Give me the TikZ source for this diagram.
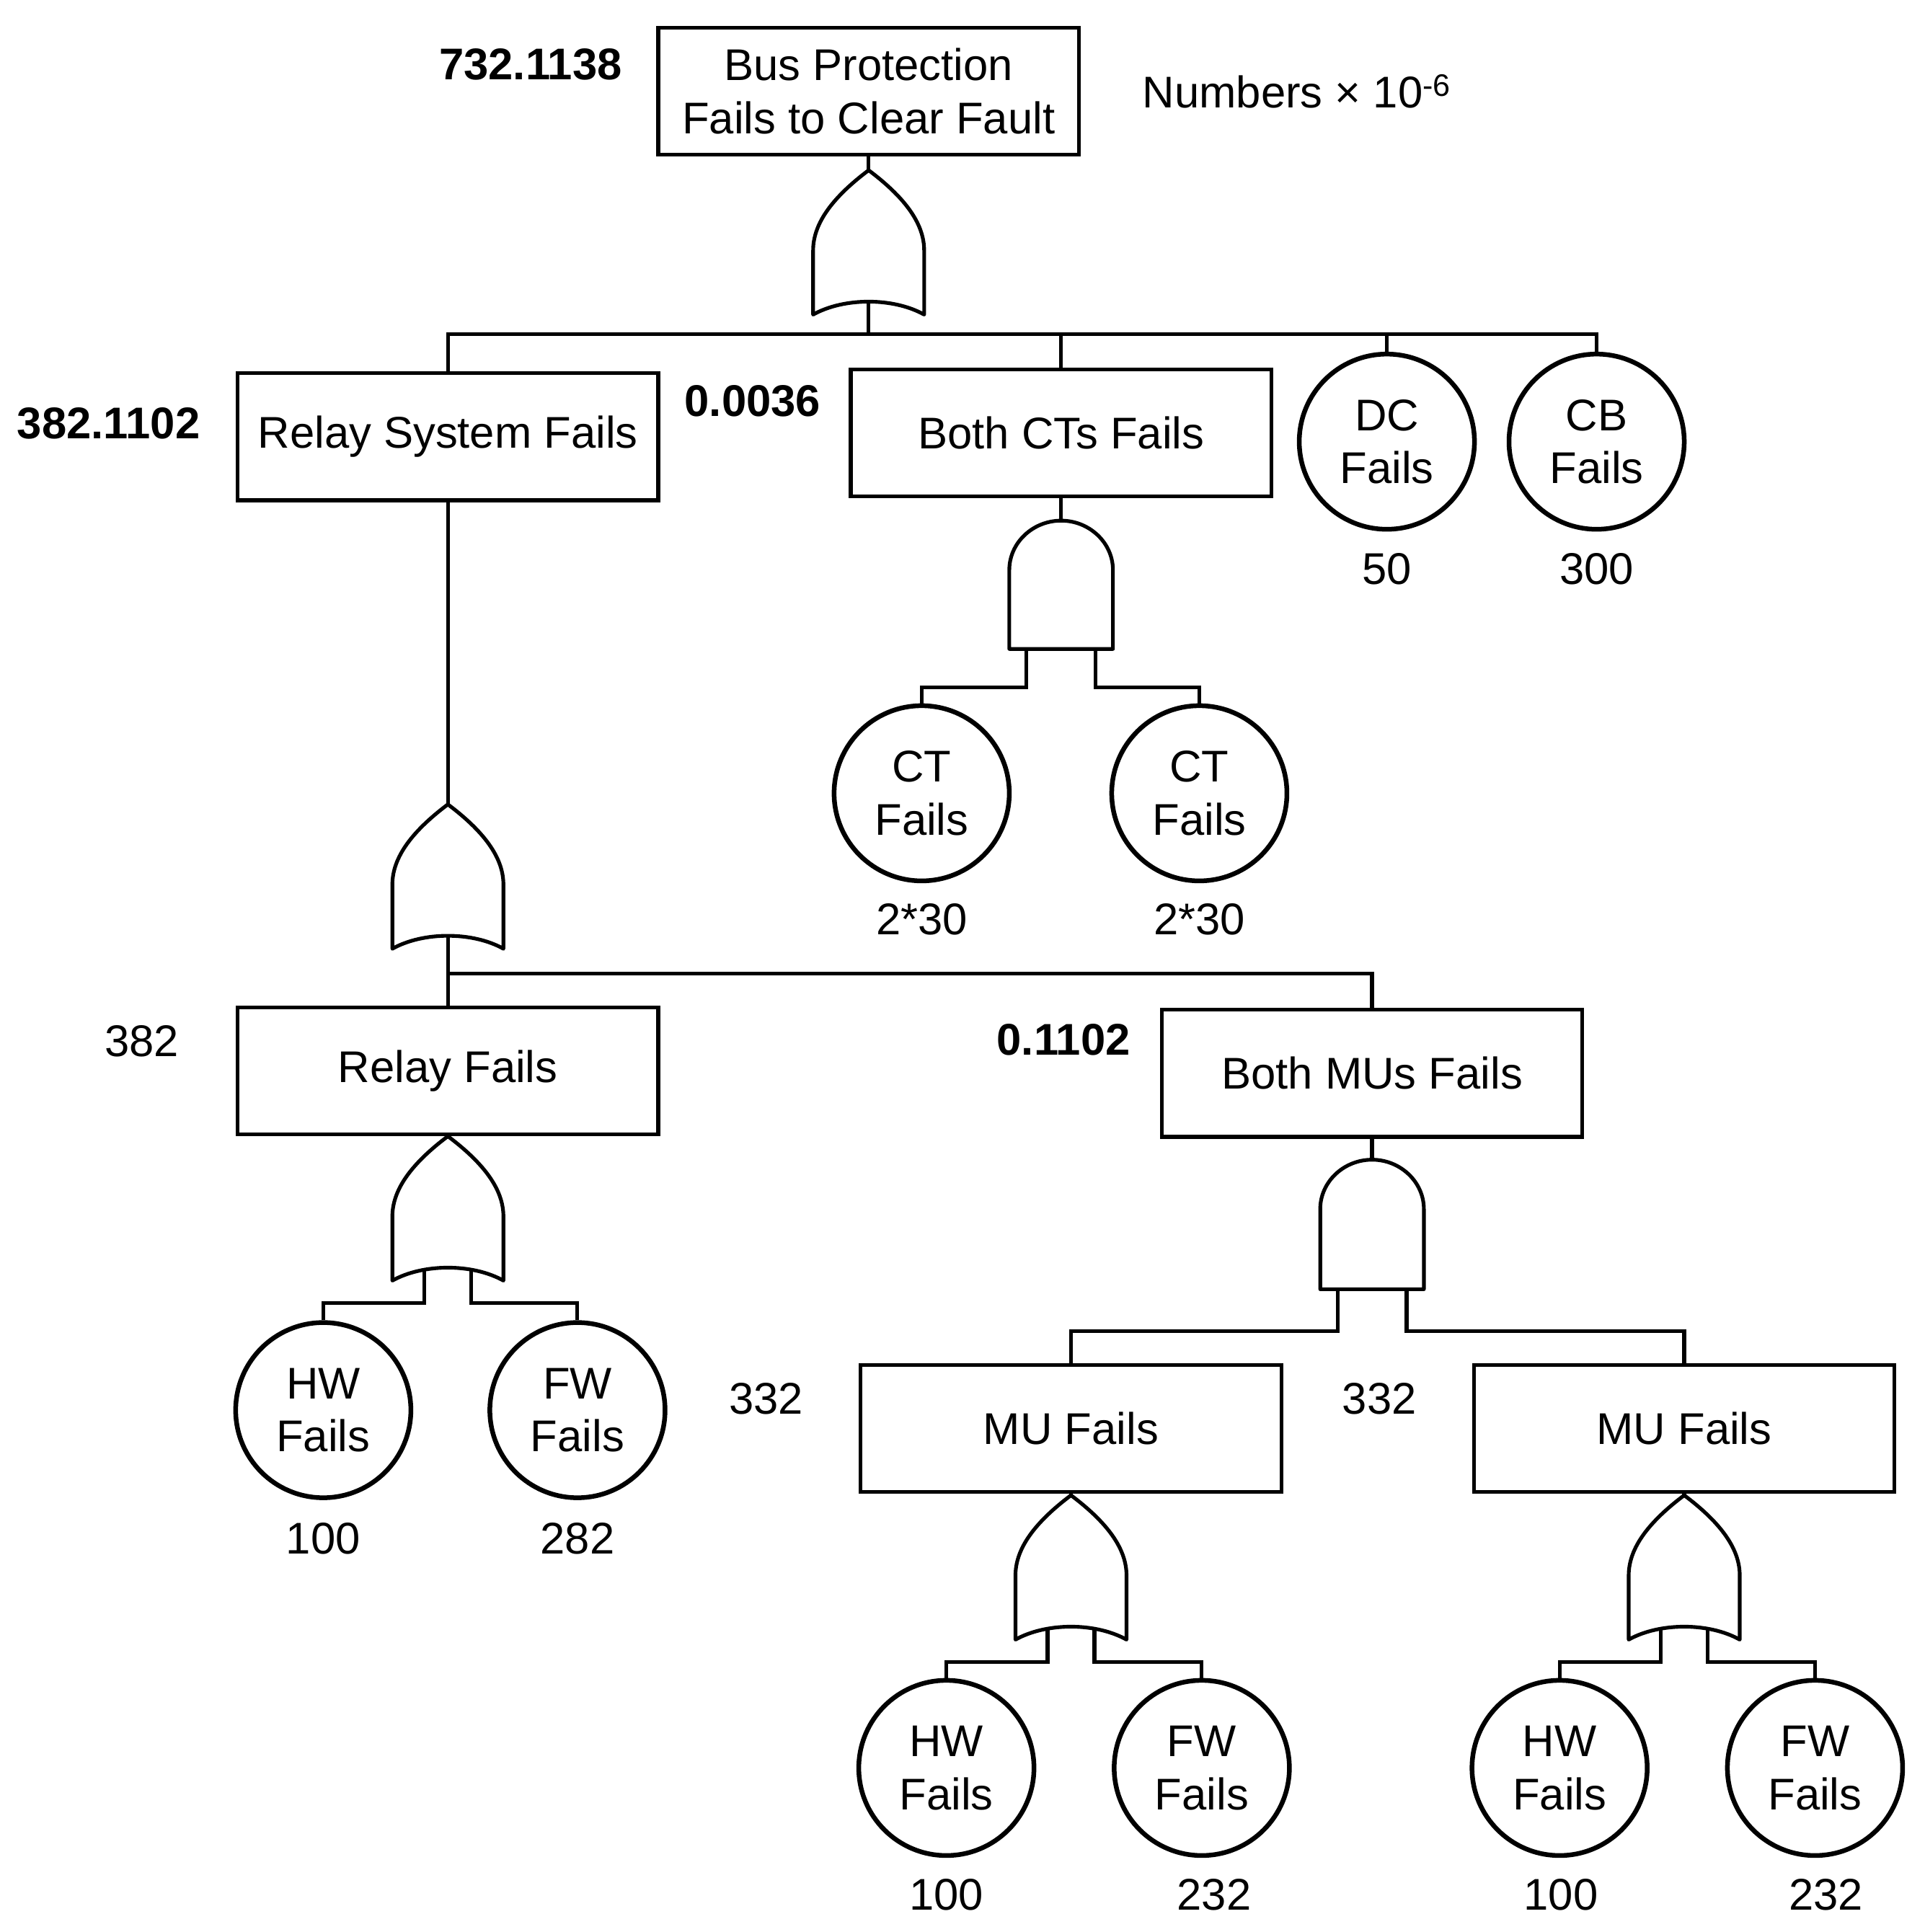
\documentclass[tikz,border=0pt]{standalone}
\usepackage{fontspec}
\setmainfont{Liberation Sans}
\newcommand{\ORgate}[3]{%
  \draw[gate] (#2,#3) .. controls (#2-32,#3+24) and (#2-45,#3+45) .. (#2-45,#3+65)
    -- (#2-45,#3+117) .. controls (#2-20,#3+103) and (#2+20,#3+103) .. (#2+45,#3+117)
    -- (#2+45,#3+65) .. controls (#2+45,#3+45) and (#2+32,#3+24) .. cycle;
  \coordinate (#1t) at (#2,#3);
  \coordinate (#1b) at (#2,#3+106);
  \coordinate (#1l) at (#2-19,#3+107);
  \coordinate (#1r) at (#2+19,#3+107);}
\newcommand{\ANDgate}[4]{%
  \draw[gate] (#2-42,#4) -- (#2-42,#3+40) .. controls (#2-42,#3+18) and (#2-23,#3) .. (#2,#3)
    .. controls (#2+23,#3) and (#2+42,#3+18) .. (#2+42,#3+40) -- (#2+42,#4) -- cycle;
  \coordinate (#1t) at (#2,#3);
  \coordinate (#1l) at (#2-28,#4);
  \coordinate (#1r) at (#2+28,#4);}
\begin{document}
\begin{tikzpicture}[x=1pt,y=-1pt,
  every node/.style={font=\fontsize{36}{43}\selectfont},
  evt/.style={draw, line width=3pt, rectangle, minimum width=341pt, minimum height=103pt, inner sep=0pt, align=center},
  basic/.style={draw, line width=3.8pt, circle, minimum size=142pt, inner sep=0pt, align=center},
  conn/.style={line width=3pt},
  gate/.style={line width=3pt, line join=round},
  val/.style={inner sep=0pt},
  bval/.style={inner sep=0pt, font=\fontsize{36}{43}\selectfont\bfseries}]
\path[fill=white, use as bounding box] (0,0) rectangle (1560,1566);

% events
\node[evt] (top) at (704,74) {Bus Protection\\Fails to Clear Fault};
\node[evt] (rsys) at (363,354) {Relay System Fails};
\node[evt] (cts) at (860,351) {Both CTs Fails};
\node[evt] (rf) at (363,868) {Relay Fails};
\node[evt] (mus) at (1112,870) {Both MUs Fails};
\node[evt] (mu1) at (868,1158) {MU Fails};
\node[evt] (mu2) at (1365,1158) {MU Fails};

% basic events
\node[basic] (dc) at (1124,358) {DC\\Fails};
\node[basic] (cb) at (1294,358) {CB\\Fails};
\node[basic] (ct1) at (747,643) {CT\\Fails};
\node[basic] (ct2) at (972,643) {CT\\Fails};
\node[basic] (hw1) at (262,1143) {HW\\Fails};
\node[basic] (fw1) at (468,1143) {FW\\Fails};
\node[basic] (hw2) at (767,1433) {HW\\Fails};
\node[basic] (fw2) at (974,1433) {FW\\Fails};
\node[basic] (hw3) at (1264,1433) {HW\\Fails};
\node[basic] (fw3) at (1471,1433) {FW\\Fails};

% values
\node[bval] (v0) at (430,52) {732.1138};
\node[val] (note) at (1051,74) {Numbers × 10\textsuperscript{-6}};
\node[bval] (v1) at (88,343) {382.1102};
\node[bval] (v2) at (610,325) {0.0036};
\node[val] (v3) at (115,844) {382};
\node[bval] (v4) at (862,843) {0.1102};
\node[val] (v5) at (621,1134) {332};
\node[val] (v6) at (1118,1134) {332};
\node[val] (vdc) at (1124,461) {50};
\node[val] (vcb) at (1294,461) {300};
\node[val] (vct1) at (747,745) {2*30};
\node[val] (vct2) at (972,745) {2*30};
\node[val] (vhw1) at (262,1247) {100};
\node[val] (vfw1) at (468,1247) {282};
\node[val] (vhw2) at (767,1536) {100};
\node[val] (vfw2) at (984,1536) {232};
\node[val] (vhw3) at (1265,1536) {100};
\node[val] (vfw3) at (1480,1536) {232};

% gates
\ORgate{g1}{704}{138}
\ORgate{g2}{363}{652}
\ORgate{g3}{363}{921}
\ORgate{g4}{868}{1212}
\ORgate{g5}{1365}{1212}
\ANDgate{a1}{860}{422}{526}
\ANDgate{a2}{1112}{940}{1045}

% connectors
\coordinate (bus) at (704,271);
\draw[conn] (top.south) -- (g1t);
\draw[conn] (g1b) -- (bus);
\draw[conn] (rsys.north) |- (bus);
\draw[conn] (cts.north) |- (bus);
\draw[conn] (dc.north) |- (bus);
\draw[conn] (cb.north) |- (bus);

\draw[conn] (cts.south) -- (a1t);
\draw[conn] (a1l) -- ++(0,31) -| (ct1.north);
\draw[conn] (a1r) -- ++(0,31) -| (ct2.north);

\draw[conn] (rsys.south) -- (g2t);
\draw[conn] (g2b) -- (rf.north);
\coordinate (br2) at (363,789);
\draw[conn] (br2) -| (mus.north);

\draw[conn] (rf.south) -- (g3t);
\draw[conn] (g3l) -- ++(0,28) -| (hw1.north);
\draw[conn] (g3r) -- ++(0,28) -| (fw1.north);

\draw[conn] (mus.south) -- (a2t);
\draw[conn] (a2l) -- ++(0,34) -| (mu1.north);
\draw[conn] (a2r) -- ++(0,34) -| (mu2.north);

\draw[conn] (mu1.south) -- (g4t);
\draw[conn] (g4l) -- ++(0,28) -| (hw2.north);
\draw[conn] (g4r) -- ++(0,28) -| (fw2.north);

\draw[conn] (mu2.south) -- (g5t);
\draw[conn] (g5l) -- ++(0,28) -| (hw3.north);
\draw[conn] (g5r) -- ++(0,28) -| (fw3.north);
\end{tikzpicture}
\end{document}
